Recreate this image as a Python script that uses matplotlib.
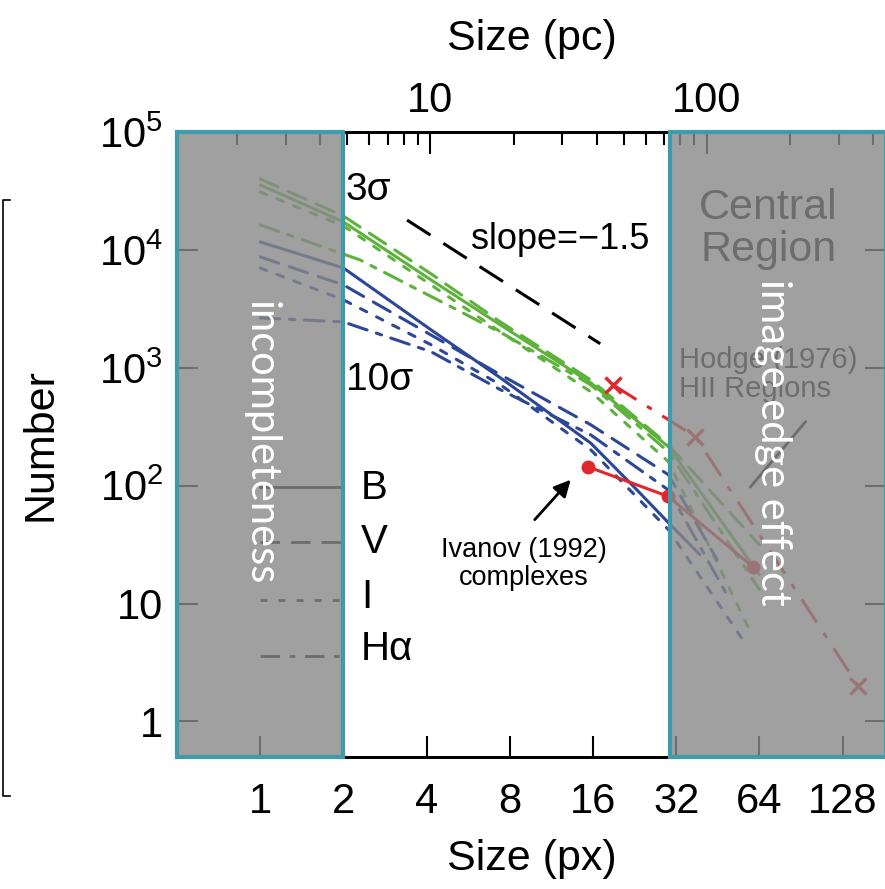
import matplotlib
matplotlib.use('Agg')
import matplotlib.pyplot as plt
from matplotlib.patches import Rectangle
from matplotlib.lines import Line2D
from matplotlib.ticker import FixedLocator, FuncFormatter, NullLocator

plt.rcParams['font.family'] = ['Liberation Sans', 'DejaVu Sans']
plt.rcParams['mathtext.fontset'] = 'custom'
plt.rcParams['mathtext.rm'] = 'Liberation Sans'
plt.rcParams['mathtext.it'] = 'Liberation Sans:italic'
plt.rcParams['lines.scale_dashes'] = False

# pixel scale of the images (pc per px)
PC_PER_PX = 2.42

# --- size distributions, 3 sigma (green) ---
g_b_x = [1, 2, 4.15, 7.4, 15.7, 30, 64]
g_b_y = [35600, 17300, 5570, 2310, 747, 214, 17.6]
g_v_x = [1, 2, 4.15, 7.4, 15.7, 30, 64]
g_v_y = [40000, 19400, 6270, 2450, 790, 222, 31.6]
g_i_x = [1, 2, 4.15, 7.4, 15.7, 30, 60]
g_i_y = [31000, 16000, 5050, 2020, 627, 160, 5.5]
g_ha_x = [1, 2.3, 5, 7.7, 15.7, 30, 64]
g_ha_y = [16300, 8220, 3220, 1900, 718, 194, 13.2]

# --- size distributions, 10 sigma (blue) ---
b_b_x = [1, 2, 4.15, 7.4, 15.7, 22.5, 30, 39]
b_b_y = [11700, 7030, 2100, 822, 230, 98, 48.6, 26]
b_v_x = [1, 2, 4.15, 7.4, 15.7, 30, 45]
b_v_y = [8730, 5050, 1900, 873, 329, 124, 23.6]
b_i_x = [1, 2, 4.15, 7.4, 15.7, 30, 58]
b_i_y = [7030, 3770, 1570, 718, 202, 42.4, 4.3]
b_ha_x = [1, 2, 4.15, 7.4, 15.7, 30, 50]
b_ha_y = [2650, 2450, 1370, 652, 270, 92, 10.8]

# comparison samples
hodge_x = [18.9, 37.6, 146]
hodge_y = [718, 260, 2.0]
ivanov_x = [15.3, 30, 60.5]
ivanov_y = [145, 81, 20.6]

# reference power law, slope -1.5
slope_x = [3.4, 17]
slope_y = [17900, 1600]

# key lines
key_x = [1, 2]
key_y = {'B': 98, 'V': 33, 'I': 10.8, 'Hα': 3.6}
key_text_y = {'B': 96, 'V': 33, 'I': 11.3, 'Hα': 4.1}

x_ticks = [1, 2, 4, 8, 16, 32, 64, 128]
y_ticks = [1, 10, 100, 1e3, 1e4, 1e5]
y_ticklabels = ['1', '10', r'$10^2$', r'$10^3$', r'$10^4$', r'$10^5$']
pc_major = [10, 100]
pc_minor = [2, 3, 4, 5, 6, 7, 8, 9, 20, 30, 40, 50, 60, 70, 80, 90, 200, 300, 400]

# shaded size ranges (px)
incomplete_range = (0.5, 2)
edge_range = (30.5, 184)

GREEN = '#5db23c'
BLUE = '#2c4797'
RED = '#e1262c'
TEAL = '#3e9bab'

styles = {
    'B': '-',
    'V': (0, (14, 8)),
    'I': (0, (5, 8)),
    'Hα': (0, (14, 7, 4, 7)),
}

fig = plt.figure(figsize=(8.85, 8.89), dpi=100)
ax = fig.add_axes([0.2, 0.1485, 0.8012, 0.703])
ax2 = ax.twiny()
ax.set_zorder(1)
ax2.set_zorder(0)
ax.patch.set_visible(False)
ax2.patch.set_visible(True)
ax2.patch.set_facecolor('white')

ax.set_xscale('log', base=2)
ax.set_yscale('log')
ax.set_xlim(0.5, 184)
ax.set_ylim(0.5, 1e5)

lw = 2.2
for col, series in [
    (GREEN, [(g_b_x, g_b_y, 'B'), (g_v_x, g_v_y, 'V'), (g_i_x, g_i_y, 'I'), (g_ha_x, g_ha_y, 'Hα')]),
    (BLUE, [(b_b_x, b_b_y, 'B'), (b_v_x, b_v_y, 'V'), (b_i_x, b_i_y, 'I'), (b_ha_x, b_ha_y, 'Hα')]),
]:
    for xs, ys, band in series:
        ax.plot(xs, ys, color=col, lw=lw, linestyle=styles[band],
                dash_capstyle='round', solid_capstyle='round', zorder=2)

ax.plot(slope_x, slope_y, color='k', lw=2.2, linestyle=(0, (20, 11)), zorder=2)

ax.plot(hodge_x, hodge_y, color=RED, lw=lw, linestyle=(0, (20, 9, 4, 9)),
        marker='x', ms=11, mew=2.5, zorder=2)
ax.plot(ivanov_x, ivanov_y, color=RED, lw=lw, marker='o', ms=9, zorder=2)

for band, yv in key_y.items():
    ax.plot(key_x, [yv, yv], color='k', lw=2, linestyle=styles[band], zorder=2)
    ax.text(2.32, key_text_y[band], band, fontsize=29, ha='left', va='center', zorder=2)

ax.text(2.03, 32200, '3σ', fontsize=28, ha='left', va='center', zorder=2)
ax.text(2.05, 790, '10σ', fontsize=28, ha='left', va='center', zorder=2)
ax.text(5.79, 12200, 'slope=−1.5', fontsize=26, ha='left', va='center', zorder=2)

ax.text(9.0, 21.8, 'Ivanov (1992)\ncomplexes', fontsize=19.5, ha='center', va='center',
        linespacing=1.1, zorder=2)
ax.annotate('', xy=(13.5, 117), xytext=(9.7, 49.5),
            arrowprops=dict(arrowstyle='-|>', color='k', lw=2, mutation_scale=25), zorder=2)

ax.text(69, 15100, 'Central\nRegion', fontsize=31, ha='center', va='center',
        linespacing=1.05, zorder=2)
ax.text(32.7, 870, 'Hodge (1976)\nHII Regions', fontsize=21, ha='left', va='center',
        linespacing=1.05, zorder=2)
ax.plot([59.5, 94], [98, 348], color='k', lw=2, zorder=2)

# shaded regions: incompleteness (left) and image edge (right)
xt = ax.get_xaxis_transform()
for x0, x1 in [incomplete_range, edge_range]:
    ax.add_patch(Rectangle((x0, 0), x1 - x0, 1, transform=xt,
                           facecolor=(0.537, 0.537, 0.537, 0.8),
                           edgecolor=TEAL, lw=3, zorder=5, clip_on=False))

ax.text(1.0, 231, 'incompleteness', color='white', fontsize=30, rotation=-90,
        ha='center', va='center', family=['Lato', 'DejaVu Sans'], zorder=6)
ax.text(72, 231, 'image edge effect', color='white', fontsize=30, rotation=-90,
        ha='center', va='center', family=['Lato', 'DejaVu Sans'], zorder=6)

# bottom axis in px
ax.xaxis.set_major_locator(FixedLocator(x_ticks))
ax.xaxis.set_major_formatter(FuncFormatter(lambda v, _: f'{v:g}'))
ax.xaxis.set_minor_locator(NullLocator())
ax.yaxis.set_major_locator(FixedLocator(y_ticks))
ax.set_yticklabels(y_ticklabels)
ax.yaxis.set_minor_locator(NullLocator())
ax.tick_params(axis='x', which='major', direction='in', length=15, width=1.5,
               top=False, labelsize=30, pad=18)
ax.tick_params(axis='y', which='major', direction='in', length=15, width=1.5,
               left=True, right=True, labelsize=30, pad=10)
for s in ax.spines.values():
    s.set_linewidth(2)

ax.set_xlabel('Size (px)', fontsize=31, labelpad=12)
ax.set_ylabel('Number', fontsize=31, labelpad=28)

# top axis in pc
ax2.set_xscale('log')
ax2.set_xlim(0.5 * PC_PER_PX, 184 * PC_PER_PX)
ax2.xaxis.set_major_locator(FixedLocator(pc_major))
ax2.xaxis.set_major_formatter(FuncFormatter(lambda v, _: f'{v:g}'))
ax2.xaxis.set_minor_locator(FixedLocator(pc_minor))
ax2.tick_params(axis='x', which='major', direction='in', length=16, width=1.5,
                labelsize=30, pad=8)
ax2.tick_params(axis='x', which='minor', direction='in', length=9, width=1.5)
ax2.set_xlabel('Size (pc)', fontsize=31, labelpad=22)
for s in ax2.spines.values():
    s.set_linewidth(2)

# frame edge at far left
fig.add_artist(Line2D([10 / 885, 3 / 885, 3 / 885, 10 / 885],
                      [1 - 200 / 889, 1 - 200 / 889, 1 - 796 / 889, 1 - 796 / 889],
                      transform=fig.transFigure, color='k', lw=1.2))

fig.savefig('out.png', dpi=100)
